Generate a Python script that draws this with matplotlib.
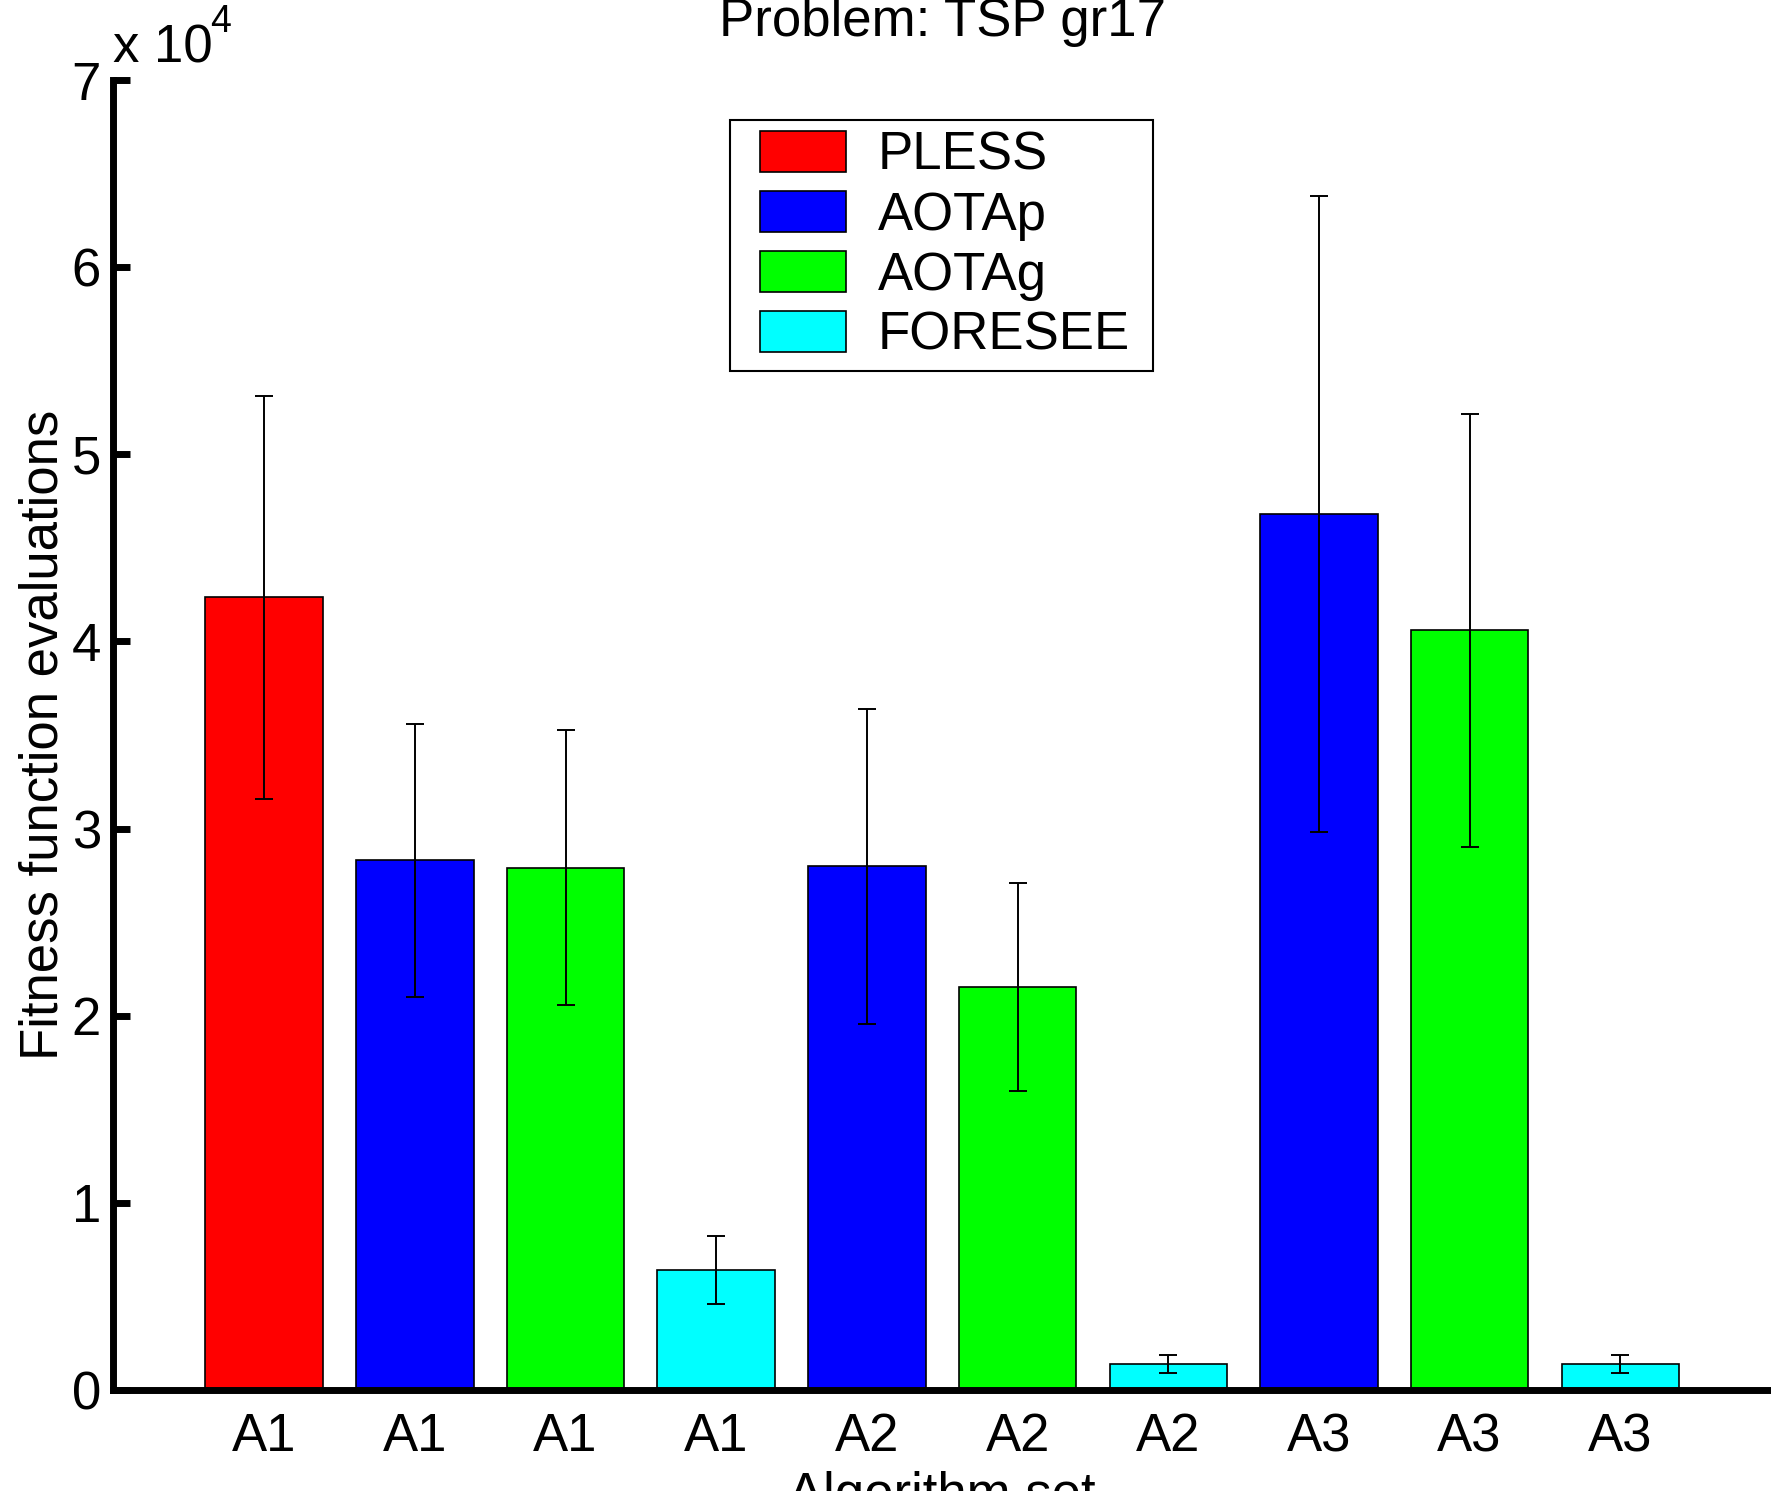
import matplotlib
matplotlib.use("Agg")
import matplotlib.pyplot as plt
from matplotlib.patches import Patch, Rectangle
from matplotlib.legend_handler import HandlerPatch
from matplotlib.ticker import FuncFormatter

plt.rcParams['font.family'] = ['Liberation Sans', 'DejaVu Sans']

# datos de las barras (evaluaciones de la funcion de aptitud)
etiquetas = ["A1", "A1", "A1", "A1", "A2", "A2", "A2", "A3", "A3", "A3"]
metodos = ["PLESS", "AOTAp", "AOTAg", "FORESEE", "AOTAp", "AOTAg", "FORESEE", "AOTAp", "AOTAg", "FORESEE"]
medias = [42350, 28300, 27900, 6420, 27980, 21540, 1390, 46800, 40590, 1390]
errores = [10770, 7300, 7350, 1800, 8400, 5560, 470, 17000, 11580, 470]

colores = {"PLESS": "#ff0000", "AOTAp": "#0000ff", "AOTAg": "#00ff00", "FORESEE": "#00ffff"}

fig = plt.figure(figsize=(17.71, 14.91), dpi=100)
ax = fig.add_axes([113.5 / 1771, 1 - 1390 / 1491, 1 - 113.5 / 1771, (1390 - 80) / 1491])

posiciones = list(range(1, len(medias) + 1))
ax.bar(posiciones, medias, width=0.78, color=[colores[m] for m in metodos],
       edgecolor='black', linewidth=1.2, zorder=2)
ax.errorbar(posiciones, medias, yerr=errores, fmt='none', ecolor='black',
            elinewidth=1.4, capsize=6.5, capthick=1.4, zorder=3)

ax.set_xlim(0, 11)
ax.set_ylim(0, 70000)
ax.set_yticks(range(0, 70001, 10000))
ax.yaxis.set_major_formatter(FuncFormatter(lambda v, p: "%d" % round(v / 1e4)))
ax.set_xticks(posiciones)
ax.set_xticklabels(etiquetas)

for lado in ['top', 'right']:
    ax.spines[lado].set_visible(False)
for lado in ['left', 'bottom']:
    ax.spines[lado].set_linewidth(5)
ax.spines['bottom'].set_zorder(4)

ax.tick_params(axis='y', direction='in', length=12, width=5, labelsize=38, pad=9)
ax.tick_params(axis='x', length=0, labelsize=38, pad=16)

ax.set_ylabel("Fitness function evaluations", fontsize=38, labelpad=2)
ax.set_xlabel("Algorithm set", fontsize=38, labelpad=6)
ax.set_title("Problem: TSP gr17", fontsize=38, pad=32)

# factor de escala del eje y
ax.text(0, 1.013, "x 10", transform=ax.transAxes, fontsize=38, ha='left', va='baseline')
ax.text(0.058, 1.037, "4", transform=ax.transAxes, fontsize=27, ha='left', va='baseline')


# caja de color desplazada a la derecha dentro del hueco del handle
def caja(legend, orig_handle, xdescent, ydescent, width, height, fontsize):
    ancho = width * 87.0 / 106.0
    return Rectangle((-xdescent + width - ancho, -ydescent), ancho, height)


handles = [Patch(facecolor=colores[m], edgecolor='black', linewidth=1.2) for m in colores]
leg = ax.legend(handles, list(colores.keys()), loc='upper left', mode='expand',
                bbox_to_anchor=(0.372, 0.5, 0.2552, 0.4695), fontsize=38, frameon=True,
                fancybox=False, edgecolor='black', framealpha=1, handlelength=2.0,
                handleheight=0.83, handletextpad=0.6, labelspacing=0.19, borderpad=0.2,
                borderaxespad=0, handler_map={Patch: HandlerPatch(patch_func=caja)})
leg.get_frame().set_linewidth(1.5)

fig.savefig("out.png", dpi=100)
